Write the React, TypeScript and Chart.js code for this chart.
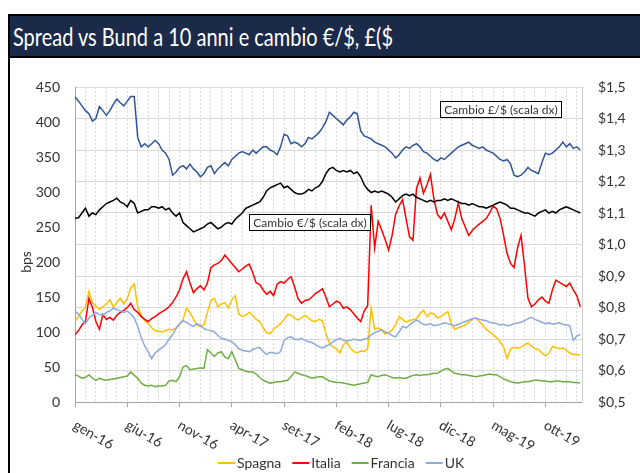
import React, { useEffect, useRef } from 'react';
import { Chart, registerables } from 'chart.js';

Chart.register(...registerables);

// ---------- DATA (3 readings per month, from Jan 2016) ----------
const POINTS_PER_MONTH = 3;
const TICK_LABELS = ['gen-16', 'giu-16', 'nov-16', 'apr-17', 'set-17', 'feb-18', 'lug-18', 'dic-18', 'mag-19', 'ott-19'];
const TICK_MONTHS = [0, 5, 10, 15, 20, 25, 30, 35, 40, 45];
const LEFT_TICKS = { min: 0, max: 450, step: 50 };
const RIGHT_TICKS = { min: 0.5, max: 1.5, step: 0.1 };
const TITLE = 'Spread vs Bund a 10 anni e cambio €/$, £($';
const AXIS_TITLE = 'bps';

const SPAGNA = [
  115, 122, 130, 135, 158, 142, 137, 132, 136, 140, 146, 136,
  142, 148, 140, 148, 163, 168, 136, 124, 116, 112, 106, 102,
  101, 100, 102, 104, 103, 106, 110, 118, 134, 128, 118, 110,
  108, 110, 128, 145, 148, 136, 140, 142, 134, 146, 152, 126,
  122, 124, 128, 124, 118, 115, 106, 99, 98, 104, 108, 112,
  118, 125, 124, 120, 117, 120, 124, 120, 116, 115, 118, 116,
  98, 84, 79, 76, 70, 82, 86, 77, 72, 70, 73, 72,
  76, 134, 104, 106, 103, 97, 99, 103, 110, 122, 118, 114,
  116, 118, 119, 126, 131, 122, 127, 126, 120, 122, 126, 129,
  112, 104, 106, 108, 110, 114, 118, 120, 115, 110, 104, 100,
  96, 92, 86, 78, 62, 76, 78, 77, 78, 82, 84, 80,
  76, 75, 70, 66, 70, 79, 78, 76, 77, 74, 70, 68,
  68, 67,
];

const ITALIA = [
  96, 102, 110, 115, 148, 135, 115, 104, 125, 118, 121, 117,
  124, 128, 131, 135, 141, 132, 128, 122, 118, 115, 119, 122,
  126, 129, 132, 136, 142, 150, 160, 176, 186, 170, 156, 162,
  166, 160, 170, 192, 196, 198, 202, 210, 204, 198, 192, 186,
  190, 194, 197, 185, 170, 168, 160, 154, 158, 152, 168, 172,
  170, 175, 179, 165, 148, 141, 145, 146, 150, 155, 158, 162,
  150, 136, 140, 144, 142, 134, 136, 132, 126, 120, 115, 130,
  138, 281, 220, 258, 246, 232, 217, 238, 268, 280, 289, 262,
  236, 231, 305, 320, 298, 310, 325, 290, 268, 262, 270, 258,
  246, 262, 284, 262, 250, 238, 245, 250, 254, 258, 262, 270,
  280, 276, 262, 238, 212, 198, 192, 220, 238, 195, 148, 136,
  140, 146, 150, 144, 141, 160, 174, 171, 168, 165, 170, 160,
  152, 136,
];

const FRANCIA = [
  39, 37, 34, 35, 39, 34, 31, 34, 32, 31, 32, 33,
  34, 35, 36, 37, 43, 38, 34, 27, 24, 23, 24, 22,
  23, 23, 24, 30, 31, 29, 36, 50, 52, 46, 47, 48,
  49, 48, 75, 70, 65, 70, 72, 64, 62, 72, 60, 48,
  46, 44, 43, 43, 40, 35, 31, 29, 27, 28, 29, 29,
  30, 31, 36, 43, 41, 39, 38, 36, 34, 35, 36, 36,
  33, 30, 29, 28, 28, 27, 26, 25, 24, 25, 26, 27,
  28, 39, 37, 36, 38, 39, 37, 35, 34, 35, 34, 34,
  36, 38, 39, 38, 39, 39, 40, 41, 41, 44, 47, 48,
  44, 41, 40, 39, 39, 38, 37, 36, 37, 38, 39, 40,
  39, 39, 36, 33, 31, 29, 28, 27, 28, 29, 29, 30,
  31, 31, 30, 30, 29, 29, 30, 30, 29, 29, 29, 28,
  28, 27,
];

const UK = [
  130, 126, 118, 112, 120, 124, 128, 125, 124, 128, 130, 134,
  132, 130, 128, 130, 126, 120, 108, 92, 80, 72, 62, 70,
  74, 78, 82, 90, 96, 105, 112, 116, 114, 110, 108, 112,
  109, 105, 103, 102, 100, 95, 91, 90, 88, 86, 82, 76,
  74, 73, 72, 75, 77, 78, 72, 68, 71, 70, 69, 72,
  88, 92, 93, 90, 89, 91, 88, 86, 85, 82, 79, 77,
  80, 82, 86, 89, 91, 88, 87, 88, 90, 89, 88, 90,
  91, 96, 99, 101, 103, 100, 98, 95, 93, 100, 108, 106,
  110, 114, 117, 114, 111, 110, 112, 109, 110, 111, 113, 112,
  110, 109, 111, 113, 115, 117, 119, 120, 118, 117, 116, 114,
  113, 112, 110, 111, 109, 110, 112, 113, 114, 116, 119, 121,
  118, 116, 114, 112, 113, 111, 112, 113, 111, 110, 109, 88,
  94, 97,
];

const CAMBIO_GBP = [
  1.469, 1.455, 1.44, 1.425, 1.415, 1.392, 1.40, 1.438, 1.425, 1.41, 1.425, 1.445,
  1.462, 1.45, 1.44, 1.455, 1.47, 1.47, 1.34, 1.31, 1.32, 1.31, 1.32, 1.33,
  1.32, 1.30, 1.29, 1.27, 1.22, 1.23, 1.245, 1.25, 1.24, 1.255, 1.24, 1.23,
  1.215, 1.225, 1.245, 1.25, 1.225, 1.24, 1.25, 1.26, 1.25, 1.27, 1.28, 1.29,
  1.295, 1.29, 1.285, 1.30, 1.29, 1.30, 1.31, 1.31, 1.30, 1.295, 1.285, 1.31,
  1.35, 1.345, 1.32, 1.325, 1.32, 1.31, 1.32, 1.34, 1.335, 1.345, 1.355, 1.37,
  1.39, 1.42, 1.41, 1.40, 1.39, 1.38, 1.395, 1.405, 1.42, 1.415, 1.36, 1.345,
  1.34, 1.335, 1.325, 1.32, 1.315, 1.31, 1.30, 1.29, 1.275, 1.285, 1.30, 1.31,
  1.305, 1.315, 1.32, 1.31, 1.295, 1.29, 1.28, 1.27, 1.265, 1.275, 1.27, 1.28,
  1.29, 1.30, 1.31, 1.315, 1.32, 1.325, 1.315, 1.31, 1.305, 1.31, 1.30, 1.295,
  1.29, 1.28, 1.27, 1.265, 1.27, 1.255, 1.22, 1.215, 1.22, 1.23, 1.245, 1.235,
  1.23, 1.225, 1.26, 1.29, 1.285, 1.29, 1.30, 1.31, 1.325, 1.31, 1.32, 1.305,
  1.31, 1.30,
];

const CAMBIO_EUR = [
  1.083, 1.085, 1.10, 1.115, 1.09, 1.10, 1.095, 1.11, 1.12, 1.13, 1.135, 1.14,
  1.147, 1.135, 1.13, 1.12, 1.14, 1.13, 1.10, 1.105, 1.11, 1.11, 1.12, 1.12,
  1.115, 1.12, 1.11, 1.115, 1.10, 1.09, 1.10, 1.07, 1.06, 1.05, 1.04, 1.045,
  1.05, 1.055, 1.065, 1.07, 1.06, 1.05, 1.055, 1.065, 1.07, 1.065, 1.08, 1.09,
  1.10, 1.115, 1.12, 1.125, 1.13, 1.135, 1.15, 1.17, 1.18, 1.185, 1.19, 1.195,
  1.18, 1.185, 1.175, 1.165, 1.16, 1.16, 1.165, 1.175, 1.17, 1.18, 1.185, 1.20,
  1.225, 1.24, 1.245, 1.235, 1.23, 1.235, 1.23, 1.235, 1.225, 1.23, 1.215, 1.19,
  1.175, 1.165, 1.17, 1.165, 1.17, 1.165, 1.16, 1.15, 1.135, 1.145, 1.155, 1.16,
  1.155, 1.16, 1.15, 1.145, 1.14, 1.135, 1.14, 1.135, 1.14, 1.14, 1.145, 1.14,
  1.145, 1.14, 1.135, 1.13, 1.13, 1.125, 1.13, 1.125, 1.12, 1.12, 1.115, 1.12,
  1.125, 1.13, 1.135, 1.13, 1.125, 1.115, 1.115, 1.11, 1.105, 1.10, 1.10, 1.095,
  1.09, 1.10, 1.105, 1.11, 1.10, 1.105, 1.10, 1.11, 1.115, 1.12, 1.115, 1.11,
  1.105, 1.10,
];

const ANNOTATIONS = [
  { text: 'Cambio £/$ (scala dx)', month: 40.7, value: 1.43 },
  { text: 'Cambio €/$ (scala dx)', month: 22.4, value: 1.071 },
];

// ---------- STYLE ----------
const FONT = 'Lato, "Open Sans", sans-serif';
const TEXT_COLOR = '#333333';
const X_MAX = 48.5;

const toPoints = (arr: number[]) => arr.map((v, i) => ({ x: i / POINTS_PER_MONTH, y: v }));

const decorPlugin = {
  id: 'decor',
  afterDraw(chart: any) {
    const ctx = chart.ctx as CanvasRenderingContext2D;
    const xs = chart.scales.x;
    const y1 = chart.scales.y1;
    ctx.save();
    // rotated x tick labels
    ctx.font = `14px ${FONT}`;
    ctx.fillStyle = TEXT_COLOR;
    ctx.textAlign = 'left';
    ctx.textBaseline = 'top';
    TICK_LABELS.forEach((lab, i) => {
      const px = xs.getPixelForValue(TICK_MONTHS[i]);
      ctx.save();
      ctx.translate(px + 3, xs.top + 16);
      ctx.rotate(Math.PI / 6);
      ctx.fillText(lab, 0, 0);
      ctx.restore();
    });
    // left axis title
    ctx.save();
    ctx.translate(26, 262);
    ctx.rotate(-Math.PI / 2);
    ctx.textAlign = 'center';
    ctx.textBaseline = 'middle';
    ctx.fillText(AXIS_TITLE, 0, 0);
    ctx.restore();
    // annotation boxes
    ctx.font = `12px ${FONT}`;
    ANNOTATIONS.forEach((a) => {
      const cx = xs.getPixelForValue(a.month);
      const cy = y1.getPixelForValue(a.value);
      const w = Math.round(ctx.measureText(a.text).width + 8);
      const h = 16;
      const bx = Math.round(cx - w / 2);
      const by = Math.round(cy - h / 2);
      ctx.fillStyle = '#ffffff';
      ctx.fillRect(bx, by, w, h);
      ctx.strokeStyle = '#000000';
      ctx.lineWidth = 1;
      ctx.strokeRect(bx + 0.5, by + 0.5, w, h);
      ctx.fillStyle = TEXT_COLOR;
      ctx.textAlign = 'center';
      ctx.textBaseline = 'middle';
      ctx.fillText(a.text, bx + w / 2 + 0.5, by + h / 2 + 1);
    });
    // legend (spread series only)
    ctx.font = `14px ${FONT}`;
    ctx.textAlign = 'left';
    ctx.textBaseline = 'middle';
    let lx = 218;
    const ly = 463;
    chart.data.datasets.slice(0, 4).forEach((ds: any) => {
      ctx.strokeStyle = ds.borderColor;
      ctx.lineWidth = 2;
      ctx.beginPath();
      ctx.moveTo(lx, ly);
      ctx.lineTo(lx + 17, ly);
      ctx.stroke();
      lx += 19;
      ctx.fillStyle = TEXT_COLOR;
      ctx.fillText(ds.label, lx, ly);
      lx += ctx.measureText(ds.label).width + 11;
    });
    ctx.restore();
  },
};

export default function App() {
  const canvasRef = useRef<HTMLCanvasElement>(null);
  const titleRef = useRef<HTMLSpanElement>(null);

  useEffect(() => {
    const t = titleRef.current;
    if (t) {
      const w = t.getBoundingClientRect().width;
      if (w > 0) t.style.transform = `scaleX(${380 / w})`;
    }
    const line = (label: string, data: number[], color: string, axis: string, order: number) => ({
      label,
      data: toPoints(data),
      borderColor: color,
      backgroundColor: color,
      borderWidth: 1.5,
      pointRadius: 0,
      tension: 0,
      yAxisID: axis,
      order,
    });
    const chart = new Chart(canvasRef.current as HTMLCanvasElement, {
      type: 'line',
      data: {
        datasets: [
          line('Spagna', SPAGNA, '#FFC000', 'y', 6),
          line('Italia', ITALIA, '#FF0000', 'y', 5),
          line('Francia', FRANCIA, '#70AD47', 'y', 4),
          line('UK', UK, '#8EA9DB', 'y', 3),
          line('Cambio £/$ (scala dx)', CAMBIO_GBP, '#2F5597', 'y1', 2),
          line('Cambio €/$ (scala dx)', CAMBIO_EUR, '#000000', 'y1', 1),
        ],
      },
      options: {
        animation: false,
        responsive: false,
        devicePixelRatio: 1,
        events: [],
        layout: { padding: { left: 10, top: 87, right: 0, bottom: 0 } },
        plugins: { legend: { display: false }, tooltip: { enabled: false }, title: { display: false } },
        font: { family: FONT },
        scales: {
          x: {
            type: 'linear',
            position: 'bottom',
            min: 0,
            max: X_MAX,
            afterBuildTicks: (s: any) => {
              const ticks = [];
              for (let m = 0; m <= Math.floor(X_MAX); m++) ticks.push({ value: m });
              s.ticks = ticks;
            },
            afterFit: (s: any) => { s.height = 71; },
            ticks: { display: false },
            grid: {
              color: '#d9d9d9',
              lineWidth: 1,
              drawTicks: true,
              tickLength: 5,
              tickColor: (c: any) => (c.tick && TICK_MONTHS.includes(c.tick.value) ? '#a6a6a6' : 'rgba(0,0,0,0)'),
            },
            border: { display: true, color: '#a6a6a6', dash: [2, 2] },
          },
          y: {
            position: 'left',
            min: LEFT_TICKS.min,
            max: LEFT_TICKS.max,
            afterFit: (s: any) => { s.width = 65; },
            ticks: { stepSize: LEFT_TICKS.step, padding: 15, color: TEXT_COLOR, font: { size: 14, family: FONT } },
            grid: { drawOnChartArea: false, drawTicks: false },
            border: { display: true, color: '#a6a6a6' },
          },
          y1: {
            position: 'right',
            min: RIGHT_TICKS.min,
            max: RIGHT_TICKS.max,
            afterFit: (s: any) => { s.width = 58; },
            ticks: {
              stepSize: RIGHT_TICKS.step,
              padding: 16,
              color: TEXT_COLOR,
              font: { size: 14, family: FONT },
              callback: (v: any) => '$' + Number(v).toFixed(1).replace('.', ','),
            },
            grid: { color: '#d9d9d9', drawTicks: false },
            border: { display: true, color: '#d0d0d0' },
          },
        },
      } as any,
      plugins: [decorPlugin],
    });
    return () => chart.destroy();
  }, []);

  return (
    <div style={{ position: 'absolute', left: 0, top: 0, width: 640, height: 473, overflow: 'hidden', background: '#ffffff' }}>
      <canvas ref={canvasRef} width={640} height={473} style={{ position: 'absolute', left: 0, top: 0, width: 640, height: 473 }} />
      <div
        style={{
          position: 'absolute', left: 8, top: 14, width: 630, height: 40,
          background: '#1c2a4a', borderTop: '2px solid #000', borderBottom: '2px solid #000', borderLeft: '2px solid #000',
          overflow: 'hidden',
        }}
      >
        <span
          ref={titleRef}
          style={{
            position: 'absolute', left: 3, top: 0, lineHeight: '40px', fontSize: 25, color: '#ffffff',
            fontFamily: FONT, whiteSpace: 'nowrap', transformOrigin: '0 0', display: 'inline-block',
          }}
        >
          {TITLE}
        </span>
      </div>
      <div style={{ position: 'absolute', left: 8, top: 58, width: 2, height: 415, background: '#000' }} />
    </div>
  );
}
